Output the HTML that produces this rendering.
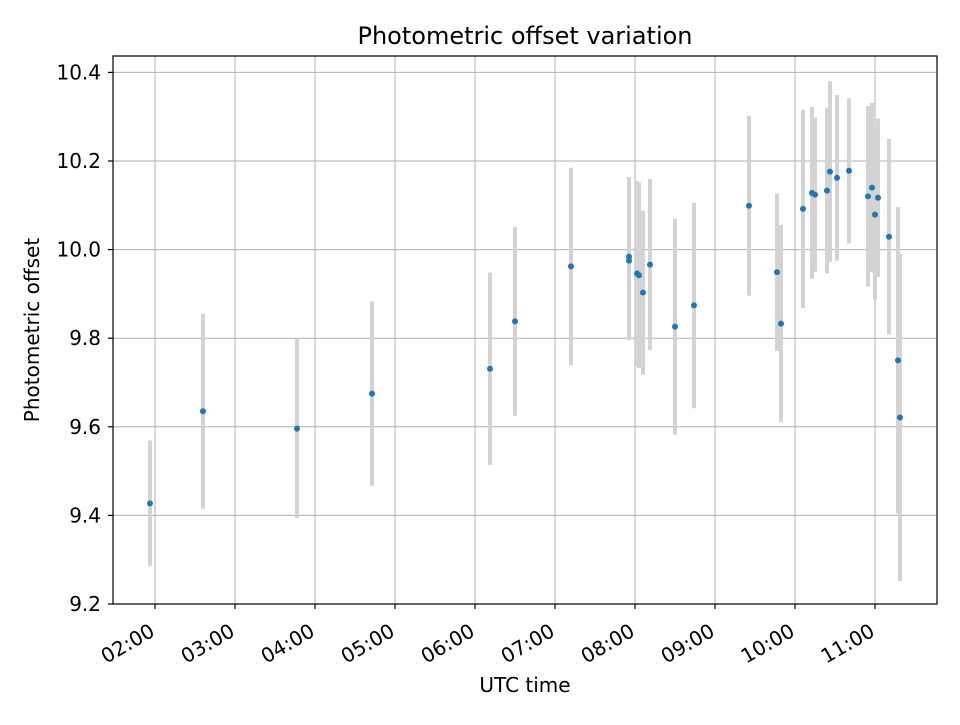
<!DOCTYPE html>
<html><head><meta charset="utf-8"><style>
body{margin:0;background:#fff}
svg text{font-family:"DejaVu Sans","Liberation Sans",sans-serif;fill:#000}
</style></head><body>
<svg id="chart" width="960" height="720" xmlns="http://www.w3.org/2000/svg">
<rect width="960" height="720" fill="#fff"/>
<g id="grid"></g><g id="marks"></g><g id="axes"></g>
<text x="525" y="44" font-size="24" text-anchor="middle">Photometric offset variation</text>
<text x="525" y="692" font-size="20" text-anchor="middle">UTC time</text>
<text transform="translate(39,330) rotate(-90)" font-size="20" text-anchor="middle">Photometric offset</text>
</svg>
<script>
// time in minutes after 00:00 UTC
const times=[116.25,156,226.5,282.75,371.25,390,432,475.5,475.5,481.5,483,486,491.25,510,524.25,565.5,586.5,589.5,606,612.75,615,624,626.25,631.5,640.5,654.75,657.75,660,662.25,670.5,677.25,678.75];
const offsets=[9.427,9.635,9.596,9.675,9.731,9.838,9.962,9.984,9.975,9.946,9.942,9.903,9.966,9.826,9.874,10.099,9.949,9.833,10.092,10.128,10.124,10.133,10.176,10.162,10.178,10.120,10.140,10.079,10.117,10.029,9.750,9.621];
const errors=[0.142,0.220,0.202,0.208,0.217,0.213,0.223,0.180,0.180,0.209,0.209,0.185,0.193,0.244,0.232,0.203,0.178,0.223,0.224,0.194,0.174,0.187,0.204,0.187,0.164,0.204,0.191,0.193,0.179,0.221,0.346,0.369];
const xTickLabels=["02:00","03:00","04:00","05:00","06:00","07:00","08:00","09:00","10:00","11:00"];
const yTickLabels=["9.2","9.4","9.6","9.8","10.0","10.2","10.4"];

const L=113,R=937,T=56,B=604;
const xMin=88.5,xMax=706.5,yMin=9.2,yMax=10.4,yTop=10.437;
const sx=m=>L+(m-xMin)/(xMax-xMin)*(R-L);
const sy=v=>B-(v-yMin)/(yTop-yMin)*(B-T);
const NS="http://www.w3.org/2000/svg";
function mk(tag,attrs,parent){const e=document.createElementNS(NS,tag);for(const k in attrs)e.setAttribute(k,attrs[k]);parent.appendChild(e);return e;}
const grid=document.getElementById('grid'),marks=document.getElementById('marks'),axes=document.getElementById('axes');

xTickLabels.forEach(lbl=>{
  const [h,m]=lbl.split(':').map(Number);const x=sx(h*60+m);
  const g=mk('line',{x1:x,x2:x,y1:T,y2:B,stroke:'#b0b0b0','stroke-width':1},grid);
  
  
  const t=mk('line',{x1:x,x2:x,y1:B,y2:B+5,stroke:'#000','stroke-width':1.2},axes);
  
  
  const ax=x+1,ay=B+31;
  const tx=mk('text',{x:ax,y:ay,'font-size':20,'text-anchor':'end',transform:`rotate(-30 ${ax} ${ay})`},axes);
  tx.textContent=lbl;
  
  
});
yTickLabels.forEach(lbl=>{
  const y=sy(parseFloat(lbl));
  const g=mk('line',{x1:L,x2:R,y1:y,y2:y,stroke:'#b0b0b0','stroke-width':1},grid);
  
  
  const t=mk('line',{x1:L-5,x2:L,y1:y,y2:y,stroke:'#000','stroke-width':1.2},axes);
  
  
  const tx=mk('text',{x:L-12,y:y+7,'font-size':20,'text-anchor':'end'},axes);
  tx.textContent=lbl;
  
  
});
times.forEach((m,i)=>{
  const x=sx(m);
  const b=mk('line',{x1:x,x2:x,y1:sy(offsets[i]+errors[i]),y2:sy(offsets[i]-errors[i]),stroke:'#d3d3d3','stroke-width':4},marks);
  
  
});
times.forEach((m,i)=>{
  const p=mk('circle',{cx:sx(m),cy:sy(offsets[i]),r:3,fill:'#1f77b4'},marks);
  
  
});
const f=mk('rect',{x:L,y:T,width:R-L,height:B-T,fill:'none',stroke:'#000','stroke-width':1.2},axes);


</script>
</body></html>
